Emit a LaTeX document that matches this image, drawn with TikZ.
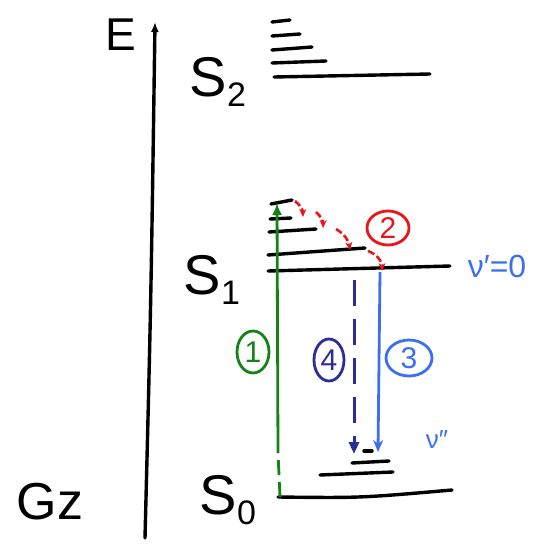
\documentclass[tikz,border=0pt]{standalone}
\usepackage{fontspec}
\setmainfont{Liberation Sans}
\usetikzlibrary{arrows.meta,shapes.geometric}
\definecolor{hgreen}{RGB}{20,130,20}
\definecolor{hred}{RGB}{235,20,25}
\definecolor{hblue}{RGB}{60,110,240}
\definecolor{hnavy}{RGB}{45,45,150}
\begin{document}
\begin{tikzpicture}[x=1pt,y=-1pt,
  lvl/.style={line width=3.4pt,line cap=round},
  big/.style={inner sep=0pt,font=\fontsize{56}{56}\selectfont},
  circlab/.style={ellipse,draw,line width=2.8pt,inner sep=0pt,font=\fontsize{30}{30}\selectfont},
  redarr/.style={hred,line width=2.6pt,dash pattern=on 7pt off 3pt,-{Stealth[length=8pt,width=7pt]}}]
\useasboundingbox (0,0) rectangle (540,551);
% energy axis
\coordinate (ax0) at (145,538);
\coordinate (ax1) at (155,22);
\draw[lvl,-{Latex[length=10pt,width=8pt]}] (ax0) .. controls (151,300) .. (ax1);
\node[inner sep=0pt,font=\fontsize{46}{46}\selectfont] (E) at (121,35) {E};
% labels
\node[big] (S2) at (218,82) {S\raisebox{-10pt}{\fontsize{34}{34}\selectfont 2}};
\node[big] (S1) at (212,280) {S\raisebox{-10pt}{\fontsize{34}{34}\selectfont 1}};
\node[big] (S0) at (228,500) {S\raisebox{-10pt}{\fontsize{34}{34}\selectfont 0}};
\node[inner sep=0pt,font=\fontsize{52}{52}\selectfont] (Gz) at (50,502) {Gz};
% S2 levels
\draw[lvl] (272,22) -- (290,20);
\draw[lvl] (272,36) -- (300,34);
\draw[lvl] (272,50) -- (312,47);
\draw[lvl] (272,63) -- (326,61);
\draw[lvl] (274,77) -- (430,74);
% S1 levels
\draw[lvl] (271,204) -- (292,200);
\draw[lvl] (270,219) -- (291,218);
\draw[lvl] (269,232) -- (316,229);
\draw[lvl] (268,255) -- (365,248);
\draw[lvl] (268,271) -- (450,266);
% S0 levels
\draw[lvl] (364,451) -- (372,451);
\draw[lvl] (352,463) -- (389,461);
\draw[lvl] (320,475) -- (393,472);
\draw[lvl] (278,497) .. controls (360,498) .. (452,490);
% (1) absorption
\coordinate (g0) at (280,497);
\coordinate (g1) at (278,453);
\coordinate (g2) at (277,203);
\draw[hgreen,line width=2.8pt,dash pattern=on 15pt off 7pt] (g0) -- (g1);
\draw[hgreen,line width=2.8pt,-{Latex[length=12pt,width=10pt]}] (g1) -- (g2);
\node[circlab,draw=hgreen,text=hgreen,minimum width=32pt,minimum height=42pt] (n1) at (253,352) {1};
% (2) vibrational relaxation
\coordinate (r1a) at (295,201);\coordinate (r1b) at (303,217);
\coordinate (r2a) at (316,212);\coordinate (r2b) at (323,228);
\coordinate (r3a) at (336,229);\coordinate (r3b) at (350,250);
\coordinate (r4a) at (368,251);\coordinate (r4b) at (382,271);
\draw[redarr] (r1a) to[bend left=25] (r1b);
\draw[redarr] (r2a) to[bend left=25] (r2b);
\draw[redarr] (r3a) to[bend left=25] (r3b);
\draw[redarr] (r4a) to[bend left=35] (r4b);
\node[circlab,draw=hred,text=hred,minimum width=42pt,minimum height=34pt] (n2) at (388,228) {2};
% (3) fluorescence
\coordinate (b0) at (380,272);
\coordinate (b1) at (378,452);
\draw[hblue,line width=2.8pt,-{Stealth[length=12pt,width=10pt]}] (b0) -- (b1);
\node[circlab,draw=hblue,text=hblue,minimum width=46pt,minimum height=36pt] (n3) at (409,358) {3};
% (4) internal conversion
\coordinate (d0) at (354,280);
\coordinate (d1) at (354,454);
\draw[hnavy,line width=3pt,dash pattern=on 26pt off 13pt,-{Triangle[length=12pt,width=10pt]}] (d0) -- (d1);
\node[circlab,draw=hnavy,text=hnavy,minimum width=30pt,minimum height=42pt] (n4) at (329,360) {4};
% vibrational labels
\node[hblue,inner sep=0pt,font=\fontsize{32}{32}\selectfont] (v0) at (497,266) {ν′=0};
\node[hblue,inner sep=0pt,font=\fontsize{26}{26}\selectfont] (v2) at (437,440) {ν″};
\end{tikzpicture}
\end{document}
